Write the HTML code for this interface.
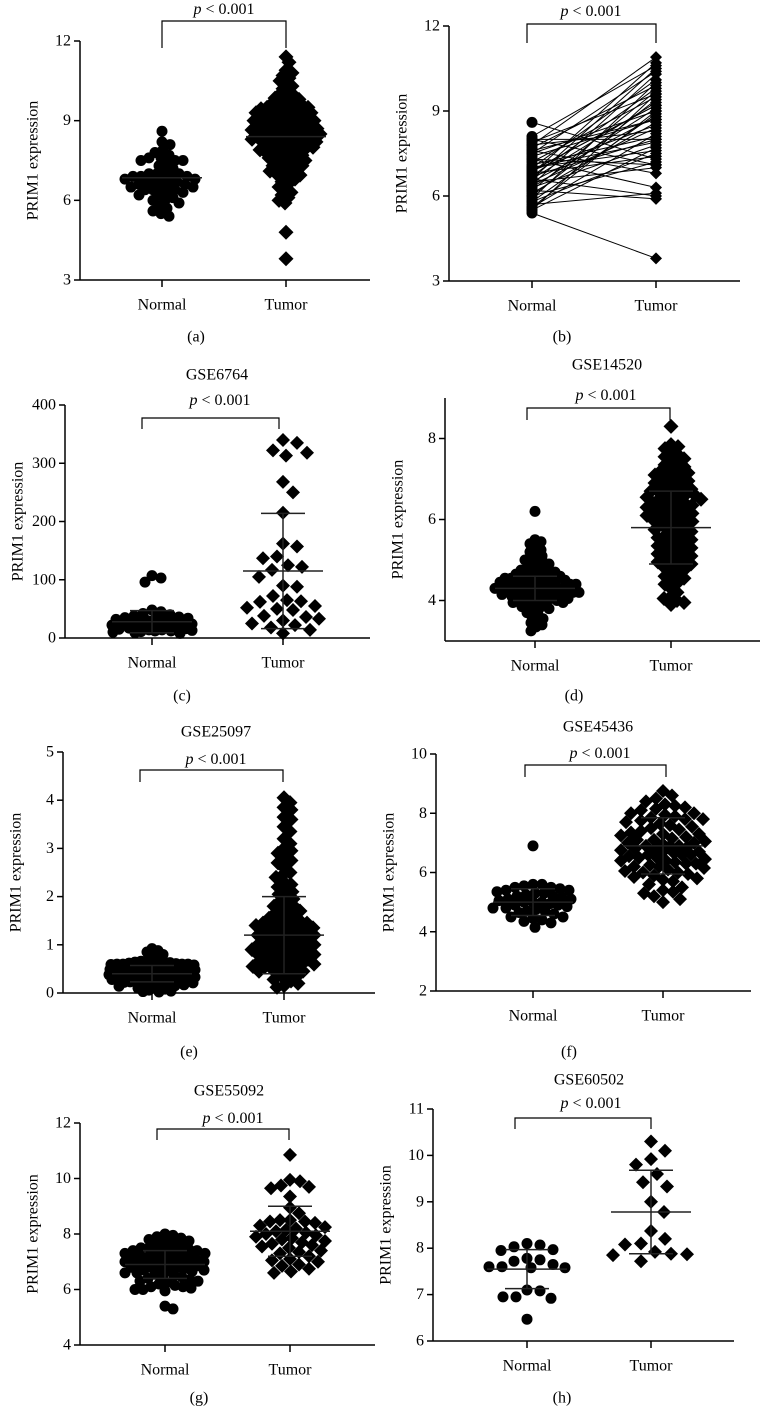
<!DOCTYPE html>
<html><head><meta charset="utf-8"><style>
html,body{margin:0;padding:0;background:#fff;}
svg{display:block;font-family:"Liberation Serif",serif;}
</style></head><body>
<svg id="fig" width="763" height="1406" viewBox="0 0 763 1406" xmlns="http://www.w3.org/2000/svg"></svg>
<script>
// ---------- DATA ----------
const categories = ["Normal", "Tumor"];
const aTicks = [3, 6, 9, 12];
const aNormal = [8.6,8.2,8.1,7.9,7.8,7.7,7.6,7.5,7.5,7.5,7.4,7.3,7.2,7.1,7.0,7.0,6.9,6.9,6.9,6.8,6.8,6.8,6.7,6.7,6.7,6.6,6.6,6.5,6.5,6.5,6.4,6.4,6.3,6.3,6.2,6.2,6.1,6.0,6.0,5.9,5.8,5.7,5.6,5.5,5.4,7.6,7.0,6.6,6.4,6.9];
const aTumor = [11.4,11.2,10.9,10.8,10.7,10.6,10.5,10.4,10.3,10.2,10.1,10.0,9.95,9.9,9.85,9.8,9.75,9.7,9.65,9.6,9.6,9.55,9.5,9.5,9.5,9.45,9.4,9.4,9.4,9.35,9.3,9.3,9.3,9.25,9.2,9.2,9.2,9.15,9.1,9.1,9.1,9.05,9.0,9.0,9.0,9.0,8.95,8.9,8.9,8.9,8.85,8.8,8.8,8.8,8.8,8.75,8.7,8.7,8.7,8.7,8.65,8.6,8.6,8.6,8.6,8.55,8.5,8.5,8.5,8.5,8.45,8.4,8.4,8.4,8.4,8.35,8.3,8.3,8.3,8.3,8.25,8.2,8.2,8.2,8.15,8.1,8.1,8.1,8.05,8.0,8.0,8.0,7.95,7.9,7.9,7.9,7.85,7.8,7.8,7.75,7.7,7.7,7.65,7.6,7.6,7.55,7.5,7.5,7.45,7.4,7.35,7.3,7.3,7.25,7.2,7.15,7.1,7.1,7.05,7.0,6.95,6.9,6.85,6.8,6.7,6.6,6.5,6.4,6.3,6.2,6.1,6.0,5.9,4.8,3.8];
const aStats = [[6.85, 0], [8.4, 0]];

const bTicks = [3, 6, 9, 12];
const bNormal = [8.6,8.1,8.0,7.9,7.8,7.8,7.7,7.6,7.5,7.5,7.4,7.3,7.2,7.1,7.0,7.0,6.9,6.9,6.8,6.8,6.7,6.7,6.6,6.6,6.5,6.5,6.4,6.4,6.3,6.3,6.2,6.2,6.1,6.0,6.0,5.9,5.8,5.8,5.7,5.6,5.6,5.5,5.5,5.4,7.6,7.0,6.6,6.9,7.3,8.0];
const bTumor  = [7.3,10.6,7.1,9.6,10.9,8.3,9.9,6.8,10.4,9.0,8.7,6.3,9.5,8.1,10.1,7.6,9.2,8.5,10.7,7.4,9.8,8.0,6.0,9.3,8.8,7.0,10.3,8.4,9.1,7.8,5.9,9.7,8.6,7.2,9.4,10.0,8.9,7.5,6.1,9.0,8.2,7.7,9.6,3.8,8.7,7.9,10.5,9.2,7.1,8.0];

const cTicks = [0, 100, 200, 300, 400];
const cNormal = [107,103,96,48,45,42,40,38,36,35,34,33,32,30,30,29,28,27,26,25,24,23,22,21,20,20,19,18,17,16,15,14,14,13,12,12,11,10,9,8];
const cTumor = [340,335,322,318,313,268,250,215,162,157,140,137,125,122,117,105,90,88,72,65,62,63,55,52,50,48,38,36,33,30,25,22,18,14,8];
const cStats = [[28, 19], [115, 99]];

const dTicks = [4, 6, 8];
const dNormal = [6.2,5.5,5.45,5.4,5.3,5.25,5.2,5.15,5.1,5.05,5.0,5.0,4.95,4.9,4.9,4.85,4.8,4.8,4.75,4.75,4.7,4.7,4.7,4.65,4.65,4.6,4.6,4.6,4.6,4.55,4.55,4.55,4.5,4.5,4.5,4.5,4.45,4.45,4.45,4.45,4.4,4.4,4.4,4.4,4.4,4.35,4.35,4.35,4.35,4.3,4.3,4.3,4.3,4.3,4.25,4.25,4.25,4.25,4.2,4.2,4.2,4.2,4.2,4.15,4.15,4.15,4.15,4.1,4.1,4.1,4.1,4.05,4.05,4.05,4.0,4.0,4.0,4.0,3.95,3.95,3.9,3.9,3.85,3.85,3.8,3.8,3.75,3.7,3.65,3.6,3.55,3.5,3.45,3.4,3.35,3.25];
const dTumor = [8.3,7.85,7.8,7.75,7.65,7.6,7.55,7.5,7.45,7.4,7.35,7.3,7.25,7.2,7.2,7.15,7.1,7.1,7.05,7.0,7.0,6.95,6.9,6.9,6.85,6.8,6.8,6.75,6.7,6.7,6.7,6.65,6.6,6.6,6.6,6.55,6.5,6.5,6.5,6.45,6.4,6.4,6.4,6.35,6.3,6.3,6.3,6.25,6.2,6.2,6.2,6.15,6.1,6.1,6.1,6.05,6.0,6.0,6.0,5.95,5.9,5.9,5.85,5.8,5.8,5.75,5.7,5.7,5.65,5.6,5.6,5.55,5.5,5.5,5.45,5.4,5.4,5.35,5.3,5.3,5.25,5.2,5.2,5.15,5.1,5.1,5.05,5.0,5.0,4.95,4.9,4.9,4.85,4.8,4.75,4.7,4.65,4.6,4.55,4.5,4.45,4.4,4.3,4.2,4.1,4.05,4.0,3.95,3.9];
const dStats = [[4.3, 0.3], [5.8, 0.9]];

const eTicks = [0, 1, 2, 3, 4, 5];
const eNormal = [0.92,0.88,0.85,0.8,0.75,0.7,0.68,0.66,0.65,0.64,0.63,0.62,0.62,0.61,0.6,0.6,0.6,0.59,0.58,0.58,0.57,0.56,0.56,0.55,0.55,0.54,0.53,0.52,0.52,0.51,0.5,0.5,0.49,0.48,0.48,0.47,0.46,0.45,0.45,0.44,0.43,0.42,0.42,0.41,0.4,0.4,0.39,0.38,0.38,0.37,0.36,0.35,0.35,0.34,0.33,0.32,0.32,0.31,0.3,0.3,0.29,0.28,0.27,0.26,0.25,0.24,0.23,0.22,0.21,0.2,0.19,0.18,0.17,0.16,0.15,0.14,0.12,0.1,0.08,0.06,0.04,0.03,0.02,0.5,0.45,0.4,0.55,0.35,0.6,0.3,0.42,0.48,0.38,0.52];
const eTumor = [4.05,3.95,3.85,3.8,3.65,3.6,3.45,3.35,3.2,3.1,3.0,2.95,2.9,2.8,2.75,2.7,2.6,2.5,2.45,2.4,2.3,2.25,2.2,2.15,2.1,2.05,2.0,1.95,1.9,1.85,1.8,1.8,1.75,1.7,1.7,1.65,1.6,1.6,1.55,1.5,1.5,1.5,1.45,1.45,1.4,1.4,1.4,1.35,1.35,1.3,1.3,1.3,1.25,1.25,1.2,1.2,1.2,1.15,1.15,1.1,1.1,1.1,1.05,1.05,1.0,1.0,1.0,0.95,0.95,0.9,0.9,0.9,0.85,0.85,0.8,0.8,0.8,0.75,0.75,0.7,0.7,0.7,0.65,0.65,0.6,0.6,0.6,0.55,0.55,0.5,0.5,0.5,0.45,0.45,0.4,0.4,0.35,0.3,0.28,0.25,0.2,0.15,0.12,1.0,0.9,1.2,0.8,1.4,0.6];
const eStats = [[0.4, 0.17], [1.2, 0.8]];

const fTicks = [2, 4, 6, 8, 10];
const fNormal = [6.9,5.6,5.55,5.5,5.5,5.45,5.4,5.4,5.35,5.3,5.3,5.25,5.2,5.2,5.15,5.1,5.1,5.05,5.0,5.0,5.0,4.95,4.9,4.9,4.85,4.8,4.8,4.75,4.7,4.7,4.65,4.6,4.5,4.5,4.45,4.4,4.35,4.3,4.15,5.6];
const fTumor = [8.75,8.6,8.5,8.4,8.3,8.25,8.2,8.15,8.1,8.0,7.95,7.9,7.85,7.8,7.75,7.7,7.65,7.6,7.55,7.5,7.45,7.4,7.35,7.3,7.25,7.2,7.15,7.1,7.05,7.0,7.0,6.95,6.9,6.9,6.85,6.8,6.8,6.75,6.7,6.7,6.65,6.6,6.6,6.55,6.5,6.5,6.45,6.4,6.4,6.35,6.3,6.3,6.25,6.2,6.2,6.15,6.1,6.05,6.0,6.0,5.95,5.9,5.85,5.8,5.75,5.7,5.6,5.5,5.4,5.35,5.3,5.2,5.1,5.0,7.1,6.9,7.3,6.6,7.8,8.0];
const fStats = [[5.0, 0.45], [6.9, 0.95]];

const gTicks = [4, 6, 8, 10, 12];
const gNormal = [8.0,7.95,7.9,7.85,7.8,7.75,7.7,7.65,7.6,7.55,7.5,7.5,7.45,7.4,7.4,7.35,7.3,7.3,7.25,7.2,7.2,7.15,7.1,7.1,7.05,7.0,7.0,7.0,6.95,6.9,6.9,6.9,6.85,6.8,6.8,6.8,6.75,6.7,6.7,6.65,6.6,6.6,6.55,6.5,6.5,6.45,6.4,6.35,6.3,6.3,6.25,6.2,6.15,6.1,6.1,6.05,6.0,6.0,5.95,5.4,5.3,7.2,7.0,6.9,7.3,7.1,6.8,7.4,6.7];
const gTumor = [10.85,9.95,9.9,9.75,9.7,9.65,9.35,8.95,8.75,8.5,8.5,8.45,8.45,8.4,8.3,8.25,8.2,8.15,8.1,8.05,8.0,7.95,7.9,7.85,7.8,7.75,7.7,7.65,7.6,7.55,7.5,7.4,7.35,7.3,7.2,7.1,7.05,7.0,6.9,6.85,6.75,6.65,6.6];
const gStats = [[6.9, 0.5], [8.1, 0.9]];

const hTicks = [6, 7, 8, 9, 10, 11];
const hNormal = [8.1,8.07,8.03,7.97,7.95,7.78,7.75,7.72,7.65,7.6,7.6,7.58,7.58,7.1,7.08,6.95,6.95,6.92,6.47];
const hTumor = [10.3,10.1,9.92,9.8,9.6,9.42,9.33,9.0,8.78,8.37,8.2,8.1,8.08,7.92,7.88,7.87,7.85,7.72];
const hStats = [[7.55, 0.42], [8.78, 0.9]];

// ---------- DRAWING ----------
const NS = "http://www.w3.org/2000/svg";
const svg = document.getElementById("fig");
function el(tag, attrs, parent, txt){
  const e = document.createElementNS(NS, tag);
  for (const k in attrs) e.setAttribute(k, attrs[k]);
  if (txt !== undefined) e.textContent = txt;
  (parent || svg).appendChild(e);
  return e;
}
function swarm(vals, yfn, dmin, maxW){
  const order = vals.map((v,i)=>i).sort((i,j)=>vals[j]-vals[i]);
  const placed = []; const offs = new Array(vals.length).fill(0);
  const cands = [0]; for (let k=1;k<=maxW;k++){cands.push(k);cands.push(-k);}
  for (const i of order){
    const y = yfn(vals[i]); let best=0, bestD=-1;
    for (const c of cands){
      let md = 1e9;
      for (const p of placed){ const dx=c-p[0], dy=y-p[1]; const dd=Math.sqrt(dx*dx+dy*dy); if (dd<md) md=dd; }
      if (md >= dmin){ best=c; bestD=md; break; }
      if (md > bestD + 0.5){ bestD = md; best = c; }
    }
    offs[i]=best; placed.push([best,y]);
  }
  return offs;
}
function panel(L){
  const g = el("g", {});
  
  
  const y = v => L.py0 + (v - L.vmin) * (L.py1 - L.py0) / (L.vmax - L.vmin);
  const xs = [L.xN, L.xT];
  const ya = el("line", {x1:L.ax, y1:L.py1, x2:L.ax, y2:L.py0, stroke:"#000", "stroke-width":1.5}, g);
  
  
  const xa = el("line", {x1:L.ax, y1:L.py0, x2:L.right, y2:L.py0, stroke:"#000", "stroke-width":1.5}, g);
  
  
  L.ticks.forEach(t => {
    el("line", {x1:L.ax-6, y1:y(t), x2:L.ax, y2:y(t), stroke:"#000", "stroke-width":1.5}, g);
    const tl = el("text", {x:L.ax-9, y:y(t), "text-anchor":"end", "dominant-baseline":"central", "font-size":16}, g, String(t));
    
    
  });
  categories.forEach((c, i) => {
    el("line", {x1:xs[i], y1:L.py0, x2:xs[i], y2:L.py0+7, stroke:"#000", "stroke-width":1.5}, g);
    const cl = el("text", {x:xs[i], y:L.py0+25, "text-anchor":"middle", "dominant-baseline":"central", "font-size":16}, g, c);
    
    
  });
  const yt = el("text", {x:0, y:0, "text-anchor":"middle", "dominant-baseline":"central", "font-size":16,
    transform:"translate(" + (L.ax-47) + "," + ((L.py0+L.py1)/2) + ") rotate(-90)"}, g, "PRIM1 expression");
  
  
  if (L.title){
    const tt = el("text", {x:L.title[0], y:L.title[1], "text-anchor":"middle", "dominant-baseline":"central", "font-size":16}, g, L.title[2]);
    
    
  }
  const pt = el("text", {x:L.p[0], y:L.p[1], "text-anchor":"middle", "dominant-baseline":"central", "font-size":16}, g);
  
  
  el("tspan", {"font-style":"italic"}, pt, "p");
  el("tspan", {}, pt, " < 0.001");
  const br = el("polyline", {points: L.br[0]+","+L.br[3]+" "+L.br[0]+","+L.br[2]+" "+L.br[1]+","+L.br[2]+" "+L.br[1]+","+L.br[3], fill:"none", stroke:"#000", "stroke-width":1.2}, g);
  
  
  const pl = el("text", {x:L.lab[0], y:L.lab[1], "text-anchor":"middle", "dominant-baseline":"central", "font-size":16}, g, "(" + L.key + ")");
  
  

  const groups = [L.normal, L.tumor];
  if (L.paired){
    L.normal.forEach((v, i) => {
      const ln = el("line", {x1:L.xN, y1:y(v), x2:L.xT, y2:y(L.tumor[i]), stroke:"#000", "stroke-width":1}, g);
      
      
    });
  }
  groups.forEach((vals, gi) => {
    const offs = L.paired ? vals.map(()=>0) : swarm(vals, y, L.dmin[gi], L.w[gi]);
    vals.forEach((v, i) => {
      const cx = xs[gi] + offs[i], cy = y(v);
      let m;
      if (gi === 0){
        m = el("circle", {cx:cx, cy:cy, r:L.r, fill:"#000"}, g);
        
      } else {
        const s = L.d;
        m = el("polygon", {points:(cx)+","+(cy-s)+" "+(cx+s)+","+cy+" "+cx+","+(cy+s)+" "+(cx-s)+","+cy, fill:"#000"}, g);
        
      }
      
    });
  });
  if (L.stats){
    L.stats.forEach((st, gi) => {
      const m = st[0], sd = st[1], cx = xs[gi];
      const col = "#222";
      const ml = el("line", {x1:cx-40, y1:y(m), x2:cx+40, y2:y(m), stroke:col, "stroke-width":1.5}, g);
      
      
      if (sd > 0){
        const vl = el("line", {x1:cx, y1:y(m-sd), x2:cx, y2:y(m+sd), stroke:col, "stroke-width":1.5}, g);
        
        
        [m-sd, m+sd].forEach(v => {
          const cp = el("line", {x1:cx-22, y1:y(v), x2:cx+22, y2:y(v), stroke:col, "stroke-width":1.5}, g);
          
          
        });
      }
    });
  }
}

panel({key:"a", ax:80, py0:280, py1:41, vmin:3, vmax:12, right:370, xN:162, xT:286, ticks:aTicks,
  normal:aNormal, tumor:aTumor, stats:aStats, br:[162,286,21,48], p:[224,9], lab:[196,337],
  r:5.5, d:7.5, dmin:[8,6], w:[39,34]});
panel({key:"b", ax:449, py0:281, py1:26, vmin:3, vmax:12, right:740, xN:532, xT:656, ticks:bTicks,
  normal:bNormal, tumor:bTumor, paired:true, br:[527,656,24,43], p:[591,11], lab:[562,337],
  r:5.5, d:6});
panel({key:"c", ax:65, py0:638, py1:405, vmin:0, vmax:400, right:370, xN:152, xT:283, ticks:cTicks,
  normal:cNormal, tumor:cTumor, stats:cStats, title:[217,375,"GSE6764"], br:[142,279,418,429], p:[220,400], lab:[182,696],
  r:5.5, d:7, dmin:[9,14], w:[40,36]});
panel({key:"d", ax:445, py0:641, py1:398, vmin:3, vmax:9, right:760, xN:535, xT:671, ticks:dTicks,
  normal:dNormal, tumor:dTumor, stats:dStats, title:[607,365,"GSE14520"], br:[527,670,408,420], p:[606,395], lab:[574,696],
  r:5.5, d:7.5, dmin:[6,7], w:[44,43]});
panel({key:"e", ax:63, py0:993, py1:752, vmin:0, vmax:5, right:375, xN:152, xT:284, ticks:eTicks,
  normal:eNormal, tumor:eTumor, stats:eStats, title:[216,732,"GSE25097"], br:[140,283,770,782], p:[216,759], lab:[189,1052],
  r:5.5, d:7.5, dmin:[6,7], w:[43,43]});
panel({key:"f", ax:436, py0:991, py1:754, vmin:2, vmax:10, right:751, xN:533, xT:663, ticks:fTicks,
  normal:fNormal, tumor:fTumor, stats:fStats, title:[598,727,"GSE45436"], br:[525,666,765,777], p:[600,753], lab:[569,1052],
  r:5.5, d:7, dmin:[9,10], w:[40,42]});
panel({key:"g", ax:80, py0:1345, py1:1123, vmin:4, vmax:12, right:375, xN:165, xT:290, ticks:gTicks,
  normal:gNormal, tumor:gTumor, stats:gStats, title:[229,1091,"GSE55092"], br:[157,289,1129,1140], p:[233,1118], lab:[199,1398],
  r:5.5, d:7, dmin:[8,10], w:[40,40]});
panel({key:"h", ax:433, py0:1341, py1:1109, vmin:6, vmax:11, right:734, xN:527, xT:651, ticks:hTicks,
  normal:hNormal, tumor:hTumor, stats:hStats, title:[589,1080,"GSE60502"], br:[515,651,1118,1129], p:[591,1103], lab:[562,1398],
  r:5.5, d:7, dmin:[13,16], w:[38,42]});
</script>
</body></html>
